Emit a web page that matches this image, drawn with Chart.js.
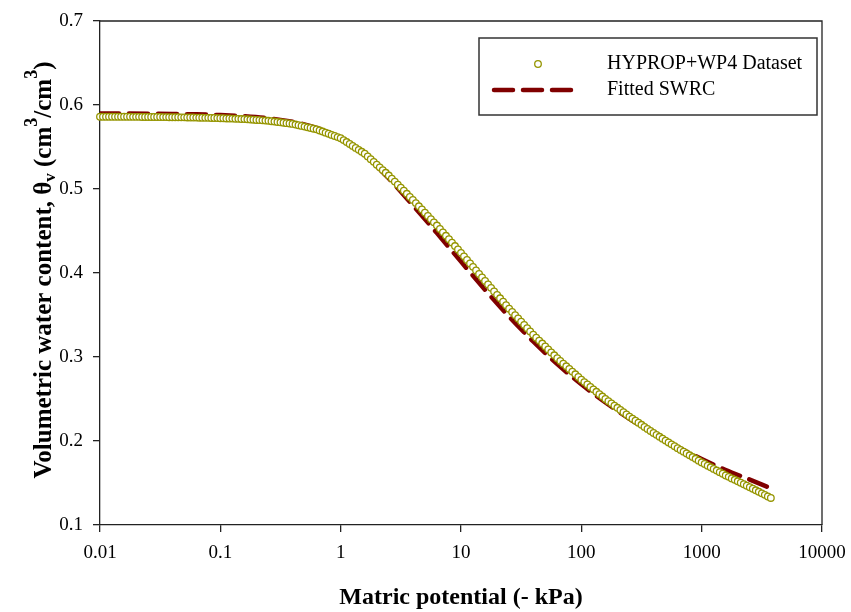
<!DOCTYPE html>
<html>
<head>
<meta charset="utf-8">
<script src="https://cdn.jsdelivr.net/npm/chart.js@4.4.1/dist/chart.umd.min.js"></script>
<style>
    html, body { margin: 0; padding: 0; background: #fff; }
    #wrap { width: 851px; height: 612px; }
</style>
</head>
<body>
<div id="wrap"><canvas id="graficoSwrc" width="851" height="612"></canvas></div>
<script>
// Sucção dos pontos medidos (kPa)
const suctionMedida = [
    0.01, 0.01059, 0.01122, 0.01189, 0.01259, 0.01334, 0.01413, 0.01496, 0.01585, 0.01679, 0.01778, 0.01884, 0.01995, 0.02113, 0.02239, 0.02371, 0.02512, 0.02661, 0.02818, 0.02985,
    0.03162, 0.0335, 0.03548, 0.03758, 0.03981, 0.04217, 0.04467, 0.04732, 0.05012, 0.05309, 0.05623, 0.05957, 0.0631, 0.06683, 0.07079, 0.07499, 0.07943, 0.08414, 0.08913, 0.09441,
    0.1, 0.1059, 0.1122, 0.1189, 0.1259, 0.1334, 0.1413, 0.1496, 0.1585, 0.1679, 0.1778, 0.1884, 0.1995, 0.2113, 0.2239, 0.2371, 0.2512, 0.2661, 0.2818, 0.2985,
    0.3162, 0.335, 0.3548, 0.3758, 0.3981, 0.4217, 0.4467, 0.4732, 0.5012, 0.5309, 0.5623, 0.5957, 0.631, 0.6683, 0.7079, 0.7499, 0.7943, 0.8414, 0.8913, 0.9441,
    1, 1.059, 1.122, 1.189, 1.259, 1.334, 1.413, 1.496, 1.585, 1.679, 1.778, 1.884, 1.995, 2.113, 2.239, 2.371, 2.512, 2.661, 2.818, 2.985,
    3.162, 3.35, 3.548, 3.758, 3.981, 4.217, 4.467, 4.732, 5.012, 5.309, 5.623, 5.957, 6.31, 6.683, 7.079, 7.499, 7.943, 8.414, 8.913, 9.441,
    10, 10.59, 11.22, 11.89, 12.59, 13.34, 14.13, 14.96, 15.85, 16.79, 17.78, 18.84, 19.95, 21.13, 22.39, 23.71, 25.12, 26.61, 28.18, 29.85,
    31.62, 33.5, 35.48, 37.58, 39.81, 42.17, 44.67, 47.32, 50.12, 53.09, 56.23, 59.57, 63.1, 66.83, 70.79, 74.99, 79.43, 84.14, 89.13, 94.41,
    100, 105.9, 112.2, 118.9, 125.9, 133.4, 141.3, 149.6, 158.5, 167.9, 177.8, 188.4, 199.5, 211.3, 223.9, 237.1, 251.2, 266.1, 281.8, 298.5,
    316.2, 335, 354.8, 375.8, 398.1, 421.7, 446.7, 473.2, 501.2, 530.9, 562.3, 595.7, 631, 668.3, 707.9, 749.9, 794.3, 841.4, 891.3, 944.1,
    1000, 1059, 1122, 1189, 1259, 1334, 1413, 1496, 1585, 1679, 1778, 1884, 1995, 2113, 2239, 2371, 2512, 2661, 2818, 2985,
    3162, 3350, 3548, 3758
];
// Umidade volumétrica medida (HYPROP + WP4)
const thetaMedida = [
    0.586, 0.586, 0.586, 0.586, 0.586, 0.586, 0.586, 0.586,
    0.586, 0.586, 0.586, 0.5859, 0.5859, 0.5859, 0.5858, 0.5858,
    0.5858, 0.5858, 0.5857, 0.5857, 0.5857, 0.5856, 0.5856, 0.5855,
    0.5855, 0.5854, 0.5854, 0.5853, 0.5853, 0.5852, 0.5851, 0.5851,
    0.585, 0.5849, 0.5848, 0.5847, 0.5847, 0.5846, 0.5845, 0.5844,
    0.5843, 0.5842, 0.584, 0.5839, 0.5838, 0.5836, 0.5835, 0.5833,
    0.5832, 0.583, 0.5827, 0.5825, 0.5822, 0.582, 0.5817, 0.5815,
    0.5812, 0.5807, 0.5803, 0.5798, 0.5794, 0.5789, 0.5784, 0.578,
    0.5775, 0.5767, 0.5759, 0.5751, 0.5743, 0.5734, 0.5726, 0.5718,
    0.571, 0.5697, 0.5684, 0.5671, 0.5658, 0.5644, 0.5631, 0.5618,
    0.5605, 0.5582, 0.5559, 0.5536, 0.5513, 0.5489, 0.5466, 0.5443,
    0.542, 0.5388, 0.5355, 0.5323, 0.529, 0.5258, 0.5225, 0.5193,
    0.516, 0.5124, 0.5088, 0.5051, 0.5015, 0.4979, 0.4943, 0.4906,
    0.487, 0.4832, 0.4794, 0.4756, 0.4718, 0.4679, 0.4641, 0.4603,
    0.4565, 0.4524, 0.4484, 0.4443, 0.4403, 0.4362, 0.4321, 0.4281,
    0.424, 0.4198, 0.4156, 0.4114, 0.4073, 0.4031, 0.3989, 0.3947,
    0.3905, 0.3864, 0.3823, 0.3781, 0.374, 0.3699, 0.3658, 0.3616,
    0.3575, 0.3536, 0.3498, 0.3459, 0.342, 0.3381, 0.3343, 0.3304,
    0.3265, 0.323, 0.3195, 0.316, 0.3125, 0.309, 0.3055, 0.302,
    0.2985, 0.2953, 0.2921, 0.2889, 0.2858, 0.2826, 0.2794, 0.2762,
    0.273, 0.2701, 0.2673, 0.2644, 0.2615, 0.2586, 0.2558, 0.2529,
    0.25, 0.2474, 0.2448, 0.2421, 0.2395, 0.2369, 0.2343, 0.2316,
    0.229, 0.2266, 0.2241, 0.2217, 0.2193, 0.2168, 0.2144, 0.2119,
    0.2095, 0.2073, 0.205, 0.2028, 0.2005, 0.1983, 0.196, 0.1938,
    0.1915, 0.1894, 0.1873, 0.1851, 0.183, 0.1809, 0.1788, 0.1766,
    0.1745, 0.1726, 0.1706, 0.1687, 0.1668, 0.1648, 0.1629, 0.161,
    0.159, 0.1573, 0.1555, 0.1538, 0.152, 0.1503, 0.1485, 0.1468,
    0.145, 0.1432, 0.1413, 0.1395, 0.1377, 0.1359, 0.134, 0.1322
];

// Curva ajustada (SWRC)
const suctionAjuste = [0.01, 0.01585, 0.02512, 0.03981, 0.0631, 0.1, 0.1585, 0.2512, 0.3981, 0.631, 1, 1.585, 2.512, 3.981, 6.31, 10, 15.85, 25.12, 39.81, 63.1, 100, 158.5, 251.2, 398.1, 631, 1000, 1585, 2512, 3631];
const thetaAjuste = [0.59, 0.5899, 0.5897, 0.5894, 0.5889, 0.588, 0.5866, 0.5842, 0.58, 0.5728, 0.5605, 0.5405, 0.5125, 0.4805, 0.4475, 0.4135, 0.38, 0.348, 0.3185, 0.2915, 0.2675, 0.246, 0.2265, 0.209, 0.193, 0.1785, 0.1655, 0.154, 0.1445];

// Marcas dos eixos
const xTicks = [0.01, 0.1, 1, 10, 100, 1000, 10000];
const xTickLabels = ['0.01', '0.1', '1', '10', '100', '1000', '10000'];
const yTicks = [0.1, 0.2, 0.3, 0.4, 0.5, 0.6, 0.7];

const fonte = "'Liberation Serif', 'Times New Roman', serif";
const corPontos = '#959500';
const corLinha = '#800000';
const corEixo = '#222';

// Título do eixo y com subscrito e sobrescritos
const tituloY = [
    { t: 'Volumetric water content, θ', size: 25, dy: 0 },
    { t: 'v', size: 17, dy: 4 },
    { t: ' (cm', size: 25, dy: 0 },
    { t: '3', size: 18, dy: -14 },
    { t: '/cm', size: 25, dy: 0 },
    { t: '3', size: 18, dy: -14 },
    { t: ')', size: 25, dy: 0 }
];

const pontosMedidos = suctionMedida.map((s, i) => ({ x: s, y: thetaMedida[i] }));
const pontosAjuste = suctionAjuste.map((s, i) => ({ x: s, y: thetaAjuste[i] }));

// Moldura, legenda e título do eixo y
const extrasPlugin = {
    id: 'extras',
    afterDraw(chart) {
        const { ctx, chartArea: a } = chart;
        ctx.save();

        // moldura (topo e direita)
        ctx.strokeStyle = corEixo;
        ctx.lineWidth = 1.3;
        ctx.beginPath();
        ctx.moveTo(a.left, a.top);
        ctx.lineTo(a.right, a.top);
        ctx.lineTo(a.right, a.bottom);
        ctx.stroke();

        // legenda
        const lx = a.right - 343, ly = a.top + 17;
        ctx.fillStyle = '#fff';
        ctx.fillRect(lx, ly, 338, 77);
        ctx.strokeStyle = '#333';
        ctx.lineWidth = 1.5;
        ctx.strokeRect(lx, ly, 338, 77);

        ctx.beginPath();
        ctx.arc(lx + 59, ly + 26, 3.3, 0, Math.PI * 2);
        ctx.fillStyle = '#fff';
        ctx.fill();
        ctx.strokeStyle = corPontos;
        ctx.lineWidth = 1.3;
        ctx.stroke();

        ctx.beginPath();
        ctx.setLineDash([19, 10]);
        ctx.lineCap = 'round';
        ctx.strokeStyle = corLinha;
        ctx.lineWidth = 4.5;
        ctx.moveTo(lx + 15, ly + 52);
        ctx.lineTo(lx + 96, ly + 52);
        ctx.stroke();
        ctx.setLineDash([]);

        ctx.fillStyle = '#000';
        ctx.font = `20px ${fonte}`;
        ctx.textBaseline = 'middle';
        ctx.textAlign = 'left';
        ctx.fillText('HYPROP+WP4 Dataset', lx + 128, ly + 26);
        ctx.fillText('Fitted SWRC', lx + 128, ly + 52);

        // título do eixo y
        ctx.translate(51, (a.top + a.bottom) / 2 - 3);
        ctx.rotate(-Math.PI / 2);
        ctx.textBaseline = 'alphabetic';
        let total = 0;
        tituloY.forEach(p => {
            ctx.font = `bold ${p.size}px ${fonte}`;
            total += ctx.measureText(p.t).width;
        });
        let x = -total / 2;
        tituloY.forEach(p => {
            ctx.font = `bold ${p.size}px ${fonte}`;
            ctx.fillText(p.t, x, p.dy);
            x += ctx.measureText(p.t).width;
        });
        ctx.restore();
    }
};

const ctx = document.getElementById('graficoSwrc').getContext('2d');
new Chart(ctx, {
    type: 'scatter',
    data: {
        datasets: [{
            label: 'HYPROP+WP4 Dataset',
            data: pontosMedidos,
            showLine: false,
            pointRadius: 3.3,
            pointBorderWidth: 1.3,
            pointBorderColor: corPontos,
            pointBackgroundColor: '#ffffff',
            clip: false
        }, {
            label: 'Fitted SWRC',
            data: pontosAjuste,
            showLine: true,
            borderColor: corLinha,
            borderWidth: 4.5,
            borderDash: [19, 10],
            borderCapStyle: 'round',
            cubicInterpolationMode: 'monotone',
            pointRadius: 0,
            fill: false
        }]
    },
    options: {
        responsive: false,
        animation: false,
        devicePixelRatio: 1,
        layout: { padding: { top: 21, right: 29, bottom: 0, left: 0 } },
        plugins: {
            legend: { display: false },
            tooltip: { enabled: false }
        },
        scales: {
            x: {
                type: 'logarithmic',
                min: 0.01,
                max: 10000,
                afterBuildTicks: s => { s.ticks = xTicks.map(v => ({ value: v })); },
                afterFit: s => { s.height = 87; s.paddingLeft = 0; s.paddingRight = 0; },
                ticks: {
                    callback: (v, i) => xTickLabels[i],
                    color: '#000',
                    font: { family: fonte, size: 19 },
                    padding: 10,
                    maxRotation: 0,
                    autoSkip: false
                },
                grid: { drawOnChartArea: false, drawTicks: true, tickLength: 7, color: corEixo, lineWidth: 1.3 },
                border: { display: true, color: corEixo, width: 1.3 },
                title: {
                    display: true,
                    text: 'Matric potential (- kPa)',
                    color: '#000',
                    font: { family: fonte, size: 24, weight: 'bold' },
                    padding: 0
                }
            },
            y: {
                min: 0.1,
                max: 0.7,
                afterBuildTicks: s => { s.ticks = yTicks.map(v => ({ value: v })); },
                afterFit: s => { s.width = 100; s.paddingTop = 0; s.paddingBottom = 0; },
                ticks: {
                    callback: v => v.toFixed(1),
                    color: '#000',
                    font: { family: fonte, size: 19 },
                    padding: 10
                },
                grid: { drawOnChartArea: false, drawTicks: true, tickLength: 7, color: corEixo, lineWidth: 1.3 },
                border: { display: true, color: corEixo, width: 1.3 }
            }
        }
    },
    plugins: [extrasPlugin]
});
</script>
</body>
</html>
